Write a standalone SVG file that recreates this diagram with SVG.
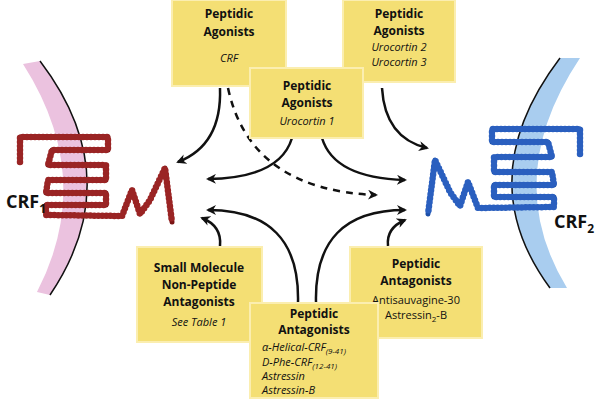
<svg xmlns="http://www.w3.org/2000/svg" width="600" height="400" viewBox="0 0 600 400">
<style>
.box{fill:#f4df74;stroke:#fbeeb0;stroke-width:2}
text{font-family:"Open Sans","Liberation Sans",sans-serif;fill:#111;text-anchor:middle}
.b{font-weight:bold;font-size:12px}
.i{font-style:italic;font-size:11px}
.n{font-size:11px}
.lbl{font-weight:bold;font-size:18px;text-anchor:start}
.arr{fill:none;stroke:#111;stroke-width:2.5;marker-end:url(#ah)}
.chain{fill:none;stroke-linecap:round;stroke-linejoin:round}
</style>
<defs>
<marker id="ah" viewBox="0 0 10 10" refX="8" refY="5" markerWidth="4" markerHeight="4" orient="auto"><path d="M0,0 L10,5 L0,10 L3,5 Z" fill="#111"/></marker>
<path id="rc" d="M20,162 L20,137 L108,137 L108,150 L52,150 L48,165 L106,165 L106,180 L48,180 L46,193 L106,193 L106,205 L46,205 L46,215 L122,216 L132,190 L140,214 L150,200 L165,168 L172,222"/>
</defs>
<g id="membrane1">
<path d="M23,64 L40,61 Q129,178 50,295 L37,292 Q96,178 23,64 Z" fill="#ebc2df"/>
<path d="M40,61 Q129,178 50,295" fill="none" stroke="#111" stroke-width="1.5"/>
</g>
<g id="membrane2">
<path d="M560,58 L580,58 Q500,178 567,288 L550,288 Q469,178 560,58 Z" fill="#a9cdef"/>
<path d="M560,58 Q469,178 550,288" fill="none" stroke="#111" stroke-width="1.5"/>
</g>
<g id="receptor1">
<use href="#rc" class="chain" stroke="#7a1414" stroke-width="5"/>
<use href="#rc" class="chain" stroke="#9a2424" stroke-width="6.5" stroke-dasharray="0 4"/>
</g>
<g id="receptor2" transform="translate(600,-8) scale(-1,1)">
<use href="#rc" class="chain" stroke="#1c4fa8" stroke-width="5"/>
<use href="#rc" class="chain" stroke="#2a5fbf" stroke-width="6.5" stroke-dasharray="0 4"/>
</g>
<text class="lbl" x="6" y="208">CRF<tspan font-size="12" dy="5">1</tspan></text>
<text class="lbl" x="554" y="228">CRF<tspan font-size="12" dy="5">2</tspan></text>
<g id="connectors">
<path class="arr" d="M220,88 Q222,145 178,162"/>
<path class="arr" d="M228,88 Q250,190 376,195" stroke-dasharray="7 6"/>
<path class="arr" d="M382,88 Q385,138 427,148"/>
<path class="arr" d="M292,138 Q280,178 208,179"/>
<path class="arr" d="M322,138 Q334,178 405,180"/>
<path class="arr" d="M298,302 Q300,210 208,210"/>
<path class="arr" d="M316,302 Q314,210 405,210"/>
<path class="arr" d="M220,246 Q222,226 202,218"/>
<path class="arr" d="M388,246 Q386,228 405,220"/>
</g>
<g id="box1"><rect class="box" x="172" y="0" width="114" height="86"/>
<text class="b" x="229" y="18">Peptidic</text><text class="b" x="229" y="36">Agonists</text><text class="i" x="229" y="62">CRF</text></g>
<g id="box2"><rect class="box" x="343" y="0" width="112" height="82"/>
<text class="b" x="399" y="18">Peptidic</text><text class="b" x="399" y="35">Agonists</text><text class="i" x="399" y="51">Urocortin 2</text><text class="i" x="399" y="66">Urocortin 3</text></g>
<g id="box3"><rect class="box" x="250" y="68" width="113" height="70"/>
<text class="b" x="307" y="90">Peptidic</text><text class="b" x="307" y="107">Agonists</text><text class="i" x="307" y="125">Urocortin 1</text></g>
<g id="box4"><rect class="box" x="137" y="247" width="125" height="95"/>
<text class="b" x="199" y="272">Small Molecule</text><text class="b" x="199" y="289">Non-Peptide</text><text class="b" x="199" y="306">Antagonists</text><text class="i" x="199" y="326">See Table 1</text></g>
<g id="box5"><rect class="box" x="350" y="247" width="132" height="91"/>
<text class="b" x="416" y="268">Peptidic</text><text class="b" x="416" y="285">Antagonists</text><text class="n" x="416" y="304">Antisauvagine-30</text><text class="n" x="416" y="319">Astressin<tspan font-size="8" dy="3">2</tspan><tspan dy="-3">-B</tspan></text></g>
<g id="box6"><rect class="box" x="250" y="303" width="128" height="95"/>
<text class="b" x="314" y="318">Peptidic</text><text class="b" x="314" y="334">Antagonists</text>
<text class="i" x="262" y="351" style="text-anchor:start">α-Helical-CRF<tspan font-size="8" dy="3">(9-41)</tspan></text>
<text class="i" x="262" y="366" style="text-anchor:start">D-Phe-CRF<tspan font-size="8" dy="3">(12-41)</tspan></text>
<text class="i" x="262" y="380" style="text-anchor:start">Astressin</text>
<text class="i" x="262" y="394" style="text-anchor:start">Astressin-B</text></g>
</svg>
